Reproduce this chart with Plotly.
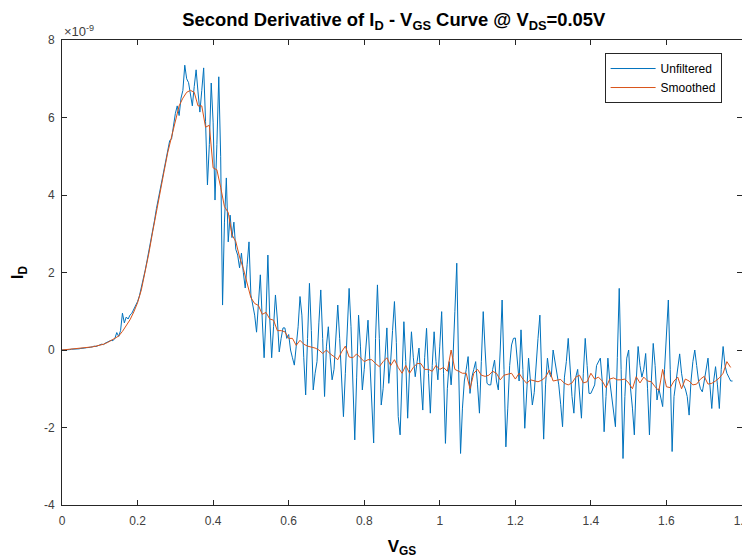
import numpy as np
import plotly.graph_objects as go

# ---- data (units of 1e-9) ----
vgs_step_raw = 0.005
id_unfiltered = [
    0.00, 0.00, 0.01, 0.01, 0.01, 0.02, 0.02, 0.02, 0.03, 0.03,
    0.04, 0.04, 0.05, 0.06, 0.06, 0.07, 0.08, 0.10, 0.09, 0.12,
    0.13, 0.15, 0.14, 0.18, 0.20, 0.22, 0.25, 0.24, 0.30, 0.45,
    0.35,
    0.50, 0.95, 0.70, 0.85, 0.80, 0.90, 0.95, 1.05, 1.15, 1.25,
    1.40, 1.60, 1.80, 2.05, 2.30, 2.55, 2.80, 3.10, 3.35, 3.65,
    3.90, 4.10, 4.40, 4.65, 4.90, 5.20, 5.40, 5.45, 5.80, 6.10,
    6.30, 6.05, 6.50,
    6.70, 7.35, 7.00, 6.90, 6.55, 6.30, 6.80, 7.23, 6.66, 6.14,
    6.70, 7.28, 5.90, 4.26, 5.30, 6.89, 5.88, 3.87, 5.30, 7.05,
    5.00, 1.16, 3.30, 4.44,
    2.79, 3.48, 2.90, 3.30, 2.60, 2.45, 2.12, 2.50, 2.00, 1.60,
    2.20, 2.79, 1.42, 1.20, 0.90, 0.46, 1.20, 1.94, 0.80, -0.20,
    0.90, 2.45, 0.80, -0.20, 0.60, 1.42, 0.80, -0.05, 0.30, 0.57,
    0.57, 0.30, 0.40, 0.00, -0.20, -0.39, 0.10, 0.60, 1.38, 0.90,
    -0.20, -1.16, 0.30, 1.72, 0.50, -1.03, -0.60, -0.30, 0.70, 1.55,
    0.30, -1.20, 0.10, 0.60, -0.20, -0.77, -0.50, 0.20, 1.16, 0.30,
    -0.80, -1.72, -0.60, 0.40, 1.59, 0.60, -1.00, -2.32, -0.70, 0.90,
    0.10, -1.03, -0.50, 0.20, 0.77, -0.30, -1.40, -2.40, 0.30, 1.68,
    0.30, -1.42, -1.00, -0.20, 0.57, -0.86, -0.30, 0.50, 1.25, 0.20,
    -1.72,
    -2.19, -0.50, 0.73, -0.30, -1.76, -0.50, 0.47, -0.20, -0.69, -0.30,
    0.05, -0.80, -1.55, -0.20, 0.56, -0.60, -1.63, -0.40, 0.47, -0.30,
    -0.77, 0.10, 0.99, -0.60, -2.41, -1.00, -0.30, -0.90, -0.20, 1.00,
    2.24, -0.50, -2.67, -1.50, -0.80, -0.50, -0.17, -1.12, -0.70, -0.50,
    -0.30, -0.90, -1.63, -0.30, 0.99, 0.00, -0.86, -0.90, -0.90, -0.50,
    -0.26, -0.80, -1.03, 0.00, 1.29, -0.50, -2.50, -1.50, -0.40, 0.13,
    0.30,
    0.31, -0.30, -0.80, 0.52, -0.50, -2.02, -0.90, -0.21, -0.80, -1.42,
    -1.10, -0.30, 0.30, 0.90, -0.60, -2.30, -0.90, -0.21, -0.60, -0.70,
    0.00, -0.30, -0.60, -0.90, -1.40, -1.98, -0.70, -0.30, 0.30, -0.50,
    -1.20, -1.63, -0.70, -0.50, -1.10, -1.76, -0.60, 0.30, -0.40, -1.12,
    -1.12, -1.00, -0.90, -0.40, -0.30, -0.21, -0.80, -2.11, -1.20, -0.21,
    -0.80, -1.20, -1.50, -1.98, -0.20, 1.59, -0.50, -2.80, -1.20, -0.21,
    0.00,
    -1.00, -1.50, -2.19, -0.80, 0.09, -0.40, -0.70, -0.50, -0.09, -1.00,
    -2.19, -0.80, 0.17, -0.40, -1.29, -1.00, -1.20, -1.46, -0.50, 0.40,
    1.29, -0.50, -2.62, -1.20, -0.80, -0.40, -0.10, -0.60, -0.90, -1.00,
    -1.20, -1.68, -0.80, -0.30, 0.00, -0.40, -0.80, -1.00, -1.08, -0.80,
    -0.50, -0.21, -0.90, -1.51, -0.80, -0.43, -0.90, -1.51, -0.50, 0.09,
    -0.40, -0.60, -0.70, -0.80, -0.80,
]

vgs_step_smooth = 0.01
id_smoothed = [
    0.00, 0.01, 0.01, 0.02, 0.03, 0.04, 0.05, 0.06, 0.08, 0.10,
    0.12, 0.15, 0.19, 0.24, 0.29, 0.36, 0.48, 0.62, 0.78, 0.98,
    1.22, 1.55, 2.00, 2.50, 3.05, 3.60, 4.10, 4.60, 5.10, 5.50,
    5.95, 6.30, 6.50, 6.65, 6.70, 6.65, 6.30, 6.30, 5.75, 5.80,
    4.70, 4.65, 4.20, 3.70, 3.55, 2.97, 2.80, 2.40, 2.10, 1.70,
    1.35, 1.20, 1.15, 0.92, 0.97, 0.80, 0.77, 0.50, 0.50, 0.47,
    0.30, 0.30, 0.12, 0.25, 0.15, 0.10, 0.08, 0.05, 0.00, -0.09,
    0.00, -0.10, -0.17, -0.25, -0.05, 0.10, -0.18, -0.20, -0.10, -0.20,
    -0.30, -0.25, -0.25, -0.35, -0.43, -0.30, -0.20, -0.40, -0.25, -0.45,
    -0.60, -0.40, -0.60, -0.45, -0.35, -0.35, -0.50, -0.50, -0.55, -0.40,
    -0.50, -0.45, -0.55, 0.00, -0.50, -0.55, -0.60, -0.60, -1.00, -0.60,
    -0.50, -0.65, -0.68, -0.65, -0.55, -0.60, -0.77, -0.65, -0.63, -0.60,
    -0.75, -0.60, -0.75, -0.86, -0.77, -0.80, -0.82, -0.78, -0.70, -0.52,
    -0.80, -0.78, -0.76, -0.86, -0.90, -0.85, -0.70, -0.65, -0.85, -0.82,
    -0.60, -0.75, -0.70, -0.80, -0.97, -0.75, -0.72, -0.77, -0.77, -0.75,
    -0.85, -1.00, -0.69, -0.85, -0.70, -0.80, -0.82, -0.95, -1.05, -0.50,
    -0.95, -0.97, -0.80, -0.70, -1.00, -0.75, -0.80, -0.90, -0.88, -0.75,
    -0.68, -0.88, -0.86, -0.80, -0.72, -0.60, -0.30, -0.45,
]

x_ticks = [0, 0.2, 0.4, 0.6, 0.8, 1, 1.2, 1.4, 1.6, 1.8]
x_tick_labels = ["0", "0.2", "0.4", "0.6", "0.8", "1", "1.2", "1.4", "1.6", "1.8"]
y_ticks = [-4, -2, 0, 2, 4, 6, 8]
y_tick_labels = ["-4", "-2", "0", "2", "4", "6", "8"]

vgs_raw = np.round(np.arange(len(id_unfiltered)) * vgs_step_raw, 4)
vgs_smooth = np.round(np.arange(len(id_smoothed)) * vgs_step_smooth, 4)

FONT = "Liberation Sans, Arial, Helvetica, sans-serif"
AX = "#262626"

fig = go.Figure()
fig.add_trace(go.Scatter(x=vgs_raw, y=id_unfiltered, mode="lines", name="Unfiltered",
                         line=dict(color="#0072BD", width=1)))
fig.add_trace(go.Scatter(x=vgs_smooth, y=id_smoothed, mode="lines", name="Smoothed",
                         line=dict(color="#D95319", width=1)))

axis_common = dict(showline=True, linecolor=AX, linewidth=1, mirror="ticks",
                   ticks="inside", ticklen=5, tickcolor=AX, showgrid=False,
                   zeroline=False, automargin=False, ticklabeloverflow="allow",
                   tickfont=dict(family=FONT, size=12, color="#404040"))

fig.update_layout(
    width=742, height=552,
    margin=dict(l=54, r=8, t=32, b=55),
    paper_bgcolor="white", plot_bgcolor="white",
    font=dict(family=FONT, color=AX),
    title=dict(text="<b>Second Derivative of I<sub>D</sub> - V<sub>GS</sub> Curve @ V<sub>DS</sub>=0.05V</b>",
               x=0.52, xanchor="center", y=0.99, yanchor="top",
               font=dict(family=FONT, size=18.4, color="black")),
    xaxis=dict(range=[0, 1.8], tickvals=x_ticks, ticktext=x_tick_labels,
               ticklabelstandoff=5,
               title=dict(text="<b>V<sub>GS</sub></b>", font=dict(family=FONT, size=17, color="black"),
                          standoff=12),
               **axis_common),
    yaxis=dict(range=[-4, 8], tickvals=y_ticks, ticktext=y_tick_labels,
               ticklabelstandoff=4,
               title=dict(text="<b>I<sub>D</sub></b>", font=dict(family=FONT, size=17, color="black"),
                          standoff=16),
               **axis_common),
    legend=dict(x=0.97, y=0.972, xanchor="right", yanchor="top",
                bgcolor="white", bordercolor=AX, borderwidth=1,
                font=dict(family=FONT, size=12, color="black"),
                tracegroupgap=0, itemwidth=45),
    showlegend=True,
)

fig.add_annotation(xref="paper", yref="paper", x=0, y=1, xanchor="left", yanchor="bottom",
                   text="×10<sup>-9</sup>", showarrow=False,
                   font=dict(family=FONT, size=13, color="#404040"), yshift=-1)

fig.write_html("out.html")
